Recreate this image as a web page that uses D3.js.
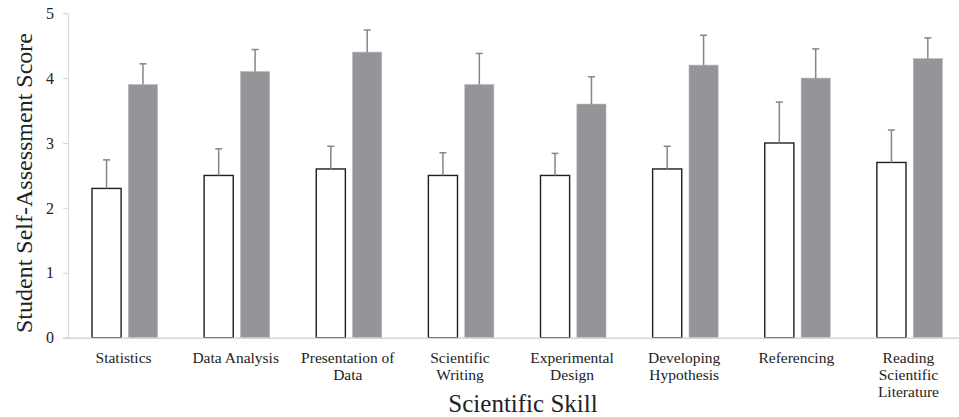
<!DOCTYPE html>
<html>
<head>
<meta charset="utf-8">
<script src="https://cdn.jsdelivr.net/npm/d3@7"></script>
<style>
  html, body { margin: 0; padding: 0; background: #fff; }
  svg { display: block; }
  text { font-family: "Liberation Serif", "Times New Roman", serif; fill: #222; }
</style>
</head>
<body>
<svg id="chart" width="959" height="417"></svg>
<script>
// Data
const categories = ["Statistics", "Data Analysis", "Presentation of Data", "Scientific Writing",
  "Experimental Design", "Developing Hypothesis", "Referencing", "Reading Scientific Literature"];
const categoryLines = [["Statistics"], ["Data Analysis"], ["Presentation of", "Data"], ["Scientific", "Writing"],
  ["Experimental", "Design"], ["Developing", "Hypothesis"], ["Referencing"], ["Reading", "Scientific", "Literature"]];
const preScores  = [2.3, 2.5, 2.6, 2.5, 2.5, 2.6, 3.0, 2.7];
const preErrors  = [0.44, 0.41, 0.35, 0.35, 0.34, 0.35, 0.63, 0.50];
const postScores = [3.9, 4.1, 4.4, 3.9, 3.6, 4.2, 4.0, 4.3];
const postErrors = [0.32, 0.34, 0.34, 0.48, 0.42, 0.46, 0.45, 0.32];
const yTicks = [0, 1, 2, 3, 4, 5];
const series = ["pre", "post"];

const svg = d3.select("#chart");
const mLeft = 68, mRight = 965, mTop = 13.2, mBottom = 337.7;

const x = d3.scaleBand().domain(categories).range([mLeft, mRight]).paddingInner(0).paddingOuter(0);
const xs = d3.scaleBand().domain(series).range([24, 89.5]).paddingInner(0.2).paddingOuter(0);
const y = d3.scaleLinear().domain([0, 5]).range([mBottom, mTop]);

// Y axis
const yAxis = svg.append("g").attr("transform", `translate(${mLeft},0)`)
  .call(d3.axisLeft(y).tickValues(yTicks).tickSize(5).tickPadding(9).tickFormat(d3.format("d")));
yAxis.attr("font-family", null).attr("font-size", null);
yAxis.select(".domain").attr("stroke", "#d9d9d9").attr("stroke-width", 1);
yAxis.selectAll(".tick line").attr("stroke", "#d9d9d9");
yAxis.selectAll(".tick text").style("font-size", "16px").attr("fill", "#222")
  .style("font-family", '"Liberation Serif", serif');

const rows = categories.map((c, i) => ({
  cat: c, pre: preScores[i], preErr: preErrors[i], post: postScores[i], postErr: postErrors[i]
}));

const g = svg.append("g");
// Post bars (gray)
g.selectAll("rect.post").data(rows).join("rect").attr("class", "post")
  .attr("x", d => x(d.cat) + xs("post"))
  .attr("width", xs.bandwidth())
  .attr("y", d => y(d.post))
  .attr("height", d => y(0) - y(d.post))
  .attr("fill", "#939598")
  .attr("stroke", "#b4b5b8").attr("stroke-width", 0.6);

// Pre bars (white with dark outline)
g.selectAll("rect.pre").data(rows).join("rect").attr("class", "pre")
  .attr("x", d => x(d.cat) + xs("pre"))
  .attr("width", xs.bandwidth())
  .attr("y", d => y(d.pre))
  .attr("height", d => y(0) - y(d.pre))
  .attr("fill", "#fff")
  .attr("stroke", "#1e1e1e").attr("stroke-width", 1.4);

// Error bars
const errData = [];
rows.forEach(d => {
  errData.push({ cx: x(d.cat) + xs("pre") + xs.bandwidth() / 2, v: d.pre, e: d.preErr });
  errData.push({ cx: x(d.cat) + xs("post") + xs.bandwidth() / 2, v: d.post, e: d.postErr });
});
const eg = g.selectAll("g.err").data(errData).join("g").attr("class", "err")
  .attr("stroke", "#858585").attr("stroke-width", 1.5);
eg.append("line").attr("x1", d => d.cx).attr("x2", d => d.cx)
  .attr("y1", d => y(d.v)).attr("y2", d => y(d.v + d.e));
eg.append("line").attr("x1", d => d.cx - 3.5).attr("x2", d => d.cx + 3.5)
  .attr("y1", d => y(d.v + d.e)).attr("y2", d => y(d.v + d.e));

// X axis line
svg.append("line").attr("x1", 63).attr("x2", 959).attr("y1", mBottom + 0.5).attr("y2", mBottom + 0.5)
  .attr("stroke", "#d6d6d6").attr("stroke-width", 1.5);

// X labels
const xl = svg.append("g");
categories.forEach((c, i) => {
  const cx = x(c) + x.bandwidth() / 2 - 0.5;
  const t = xl.append("text").attr("x", cx).attr("y", 363)
    .attr("text-anchor", "middle").style("font-size", "15.5px");
  categoryLines[i].forEach((ln, j) => {
    t.append("tspan").attr("x", cx).attr("dy", j === 0 ? 0 : 17).text(ln);
  });
});

// Axis titles
svg.append("text").attr("x", 523).attr("y", 412).attr("text-anchor", "middle")
  .style("font-size", "25px").text("Scientific Skill");
svg.append("text").attr("transform", `translate(32,183) rotate(-90)`).attr("text-anchor", "middle")
  .style("font-size", "24px").text("Student Self-Assessment Score");
</script>
</body>
</html>
